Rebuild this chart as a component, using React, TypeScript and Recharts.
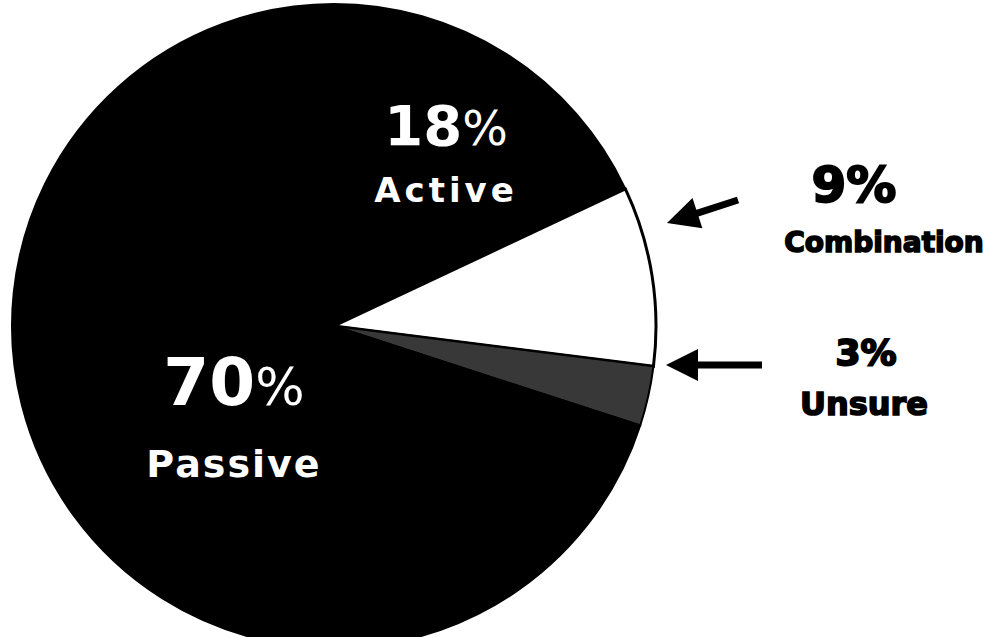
import { PieChart, Pie, Cell } from 'recharts';

const categories = ['Active', 'Combination', 'Unsure', 'Passive'];
const shares = [18, 9, 3, 70];
const fills = ['#000000', '#ffffff', '#383838', '#000000'];

const data = categories.map((name, i) => ({ name, value: shares[i] }));

const BOLD = '"DejaVu Sans", sans-serif';

// label placement relative to the pie centre
const labelLayout: Record<
  string,
  { dx1: number; dx2: number; dy1: number; dy2: number; inside: boolean; arrow?: number[] }
> = {
  Active: { dx1: 112, dx2: 112, dy1: -181, dy2: -124, inside: true },
  Passive: { dx1: -100, dx2: -100, dy1: 79, dy2: 151, inside: true },
  Combination: { dx1: 520, dx2: 550, dy1: -124, dy2: -74, inside: false, arrow: [404, -126, 333, -103] },
  Unsure: { dx1: 532, dx2: 530, dy1: 39, dy2: 89, inside: false, arrow: [428, 39, 332, 39] },
};

function Arrow({ x1, y1, x2, y2 }: { x1: number; y1: number; x2: number; y2: number }) {
  const len = Math.hypot(x2 - x1, y2 - y1);
  const ux = (x2 - x1) / len;
  const uy = (y2 - y1) / len;
  const head = 32;
  const half = 16;
  const bx = x2 - ux * head;
  const by = y2 - uy * head;
  return (
    <g>
      <line x1={x1} y1={y1} x2={bx + ux * 4} y2={by + uy * 4} stroke="#000" strokeWidth={7} />
      <polygon
        points={`${x2},${y2} ${bx - uy * half},${by + ux * half} ${bx + uy * half},${by - ux * half}`}
        fill="#000"
      />
    </g>
  );
}

function renderLabel(props: any) {
  const { cx, cy, name, value } = props;
  const l = labelLayout[name];
  if (!l) return null;
  if (l.inside) {
    const big = name === 'Passive' ? 66 : 56;
    const pct = name === 'Passive' ? 52 : 48;
    const word = name === 'Passive' ? 38 : 34;
    return (
      <g>
        <text x={cx + l.dx1} y={cy + l.dy1} textAnchor="middle" fill="#fff" fontFamily={BOLD}>
          <tspan fontWeight="bold" fontSize={big}>{value}</tspan>
          <tspan fontWeight="normal" fontSize={pct}>%</tspan>
        </text>
        <text
          x={cx + l.dx2}
          y={cy + l.dy2}
          textAnchor="middle"
          fill="#fff"
          fontFamily={BOLD}
          fontWeight="bold"
          fontSize={word}
          letterSpacing={name === 'Passive' ? 2 : 4}
        >
          {name}
        </text>
      </g>
    );
  }
  const a = l.arrow!;
  const big = name === 'Combination' ? 50 : 36;
  const word = name === 'Combination' ? 28 : 32;
  return (
    <g>
      <Arrow x1={cx + a[0]} y1={cy + a[1]} x2={cx + a[2]} y2={cy + a[3]} />
      <text
        x={cx + l.dx1}
        y={cy + l.dy1}
        textAnchor="middle"
        fill="#000"
        stroke="#000"
        strokeWidth={2}
        fontFamily={BOLD}
        fontWeight="bold"
        fontSize={big}
      >
        {value}%
      </text>
      <text
        x={cx + l.dx2}
        y={cy + l.dy2}
        textAnchor="middle"
        fill="#000"
        stroke="#000"
        strokeWidth={1.6}
        fontFamily={BOLD}
        fontWeight="bold"
        fontSize={word}
      >
        {name}
      </text>
    </g>
  );
}

export default function App() {
  return (
    <div style={{ position: 'fixed', left: 0, top: 0, width: 986, height: 637, background: '#fff', overflow: 'hidden' }}>
      <PieChart width={986} height={637} margin={{ top: 0, right: 0, bottom: 0, left: 0 }}>
        <Pie
          data={data}
          dataKey="value"
          nameKey="name"
          cx={334}
          cy={326}
          outerRadius={322}
          startAngle={90}
          endAngle={-270}
          stroke="#000"
          strokeWidth={2}
          label={renderLabel}
          labelLine={false}
          isAnimationActive={false}
        >
          {data.map((d, i) => (
            <Cell key={d.name} fill={fills[i]} stroke="#000" strokeWidth={i === 1 ? 3 : 2} />
          ))}
        </Pie>
      </PieChart>
    </div>
  );
}
